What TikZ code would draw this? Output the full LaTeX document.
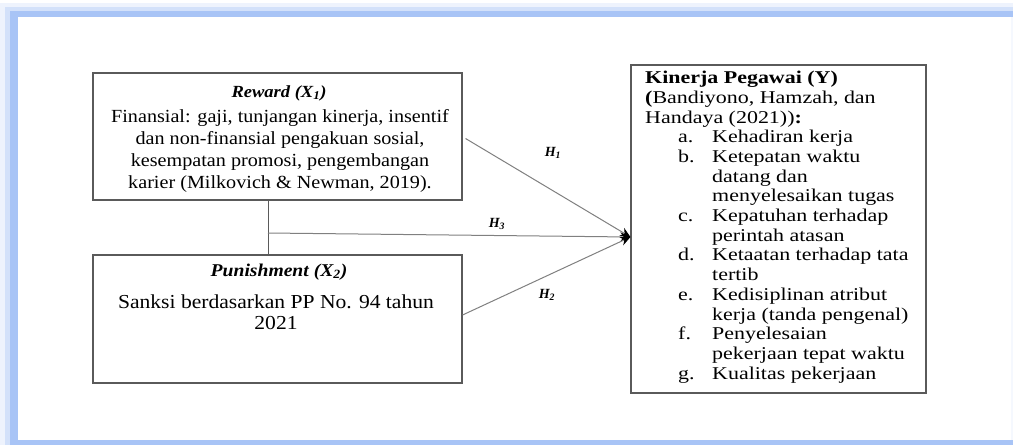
\documentclass[tikz,border=0pt]{standalone}
\usepackage{fontspec}
\setmainfont{Liberation Serif}
\newfontfamily\lfont[FakeStretch=1.09]{Liberation Serif}
\newfontfamily\rfont[FakeStretch=1.22]{Liberation Serif}
\usetikzlibrary{arrows.meta}
\definecolor{glowA}{HTML}{EEF3FD}
\definecolor{glowB}{HTML}{D3E1FA}
\definecolor{glowC}{HTML}{A8C4F6}
\definecolor{boxline}{HTML}{5A5A5A}
\definecolor{conn}{HTML}{808080}
\tikzset{
  boxnode/.style={draw=boxline, line width=1.1pt, rectangle, inner sep=0pt},
  ltext/.style={inner sep=0pt, align=center, font=\lfont\fontsize{18.5}{22}\selectfont},
  ltitle/.style={inner sep=0pt, font=\lfont\bfseries\itshape\fontsize{17}{20}\selectfont},
  hlabel/.style={inner sep=0pt, font=\bfseries\itshape\fontsize{14}{16}\selectfont},
  connector/.style={draw=conn, line width=1pt},
  arrowconn/.style={connector, -{Stealth[length=10pt,width=9pt,black]}},
}
\newcommand{\itm}[2]{\hspace*{33pt}\makebox[34pt][l]{#1}#2}
\newcommand{\cnt}[1]{\hspace*{67pt}#1}
\begin{document}
\begin{tikzpicture}[x=1pt,y=-1pt]
\useasboundingbox (0,0) rectangle (1013,445);
% frame glow
\fill[glowA] (0,3) rectangle (1013,445);
\fill[glowB] (5,7) rectangle (1013,445);
\fill[glowC] (10,11) rectangle (1013,445);
\fill[white] (18,17) rectangle (1011,440);
\fill[glowA!60!white] (1011,17) rectangle (1013,440);

% boxes
\node[boxnode, minimum width=369pt, minimum height=127pt] (rew) at (277.5,136.5) {};
\node[boxnode, minimum width=369pt, minimum height=128pt] (pun) at (277.5,319) {};
\node[boxnode, minimum width=295pt, minimum height=328pt] (kin) at (778.5,229) {};

% reward text
\node[ltitle] (rewt) at (279,93) {Reward (X\textsubscript{1})};
\node[ltext] (rewb) at (280,151) {Finansial: gaji, tunjangan kinerja, insentif\\dan non-finansial pengakuan sosial,\\kesempatan promosi, pengembangan\\karier (Milkovich \& Newman, 2019).};

% punishment text
\node[ltitle, font=\lfont\bfseries\itshape\fontsize{18}{20}\selectfont] (punt) at (279,272) {Punishment (X\textsubscript{2})};
\node[ltext, font=\lfont\fontsize{19.8}{21}\selectfont] (punb) at (276,312) {Sanksi berdasarkan PP No. 94 tahun\\2021};

% kinerja text
\node[inner sep=0pt, anchor=north west, align=left, font=\rfont\fontsize{18}{19.7}\selectfont] (kint) at (645,71) {%
\textbf{Kinerja Pegawai (Y)}\\
\textbf{(}Bandiyono, Hamzah, dan\\
Handaya (2021))\textbf{:}\\
\itm{a.}{Kehadiran kerja}\\
\itm{b.}{Ketepatan waktu}\\
\cnt{datang dan}\\
\cnt{menyelesaikan tugas}\\
\itm{c.}{Kepatuhan terhadap}\\
\cnt{perintah atasan}\\
\itm{d.}{Ketaatan terhadap tata}\\
\cnt{tertib}\\
\itm{e.}{Kedisiplinan atribut}\\
\cnt{kerja (tanda pengenal)}\\
\itm{f.}{Penyelesaian}\\
\cnt{pekerjaan tepat waktu}\\
\itm{g.}{Kualitas pekerjaan}};

% connectors
\coordinate (j) at (268,233);
\coordinate (tip) at (kin.west |- 0,237);
\draw[connector, draw=boxline] (rew.south -| j) -- (pun.north -| j);
\draw[arrowconn] (rew.east) ++(3,2) -- (tip);
\draw[arrowconn] (j) -- (tip);
\draw[arrowconn] (pun.east) ++(0,-4) -- (tip);

% labels
\node[hlabel] (h1) at (553,153) {H\textsubscript{1}};
\node[hlabel] (h3) at (497,224) {H\textsubscript{3}};
\node[hlabel] (h2) at (547,295) {H\textsubscript{2}};
\end{tikzpicture}
\end{document}
